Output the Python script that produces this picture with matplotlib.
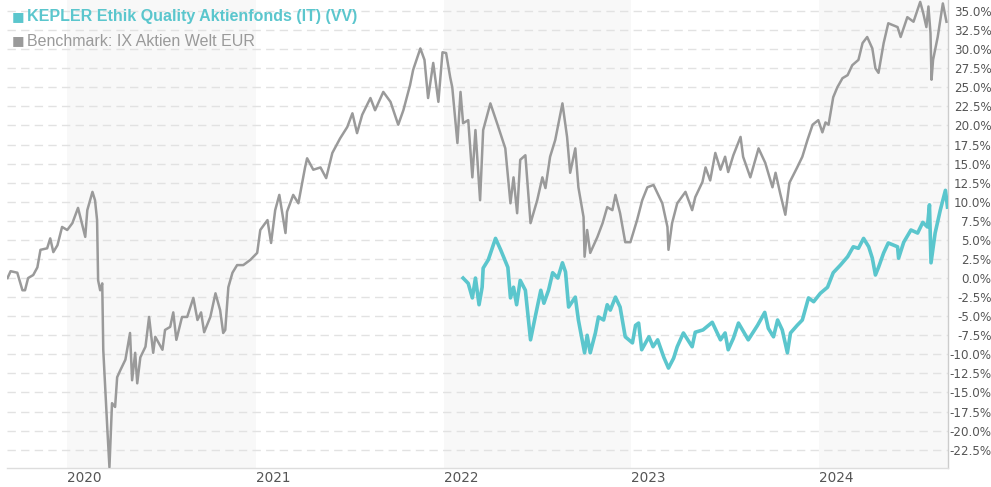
import matplotlib
matplotlib.use("Agg")
import matplotlib.pyplot as plt
import pandas as pd

# ---------------- data (percent performance) ----------------
bench_dates = [
    "2019-09-07","2019-09-13","2019-09-26","2019-10-06","2019-10-11","2019-10-17","2019-10-27",
    "2019-11-04","2019-11-10","2019-11-23","2019-11-29","2019-12-05","2019-12-13","2019-12-22",
    "2020-01-01","2020-01-11","2020-01-22","2020-02-05","2020-02-09","2020-02-19","2020-02-24",
    "2020-02-28","2020-03-01","2020-03-05","2020-03-09","2020-03-11","2020-03-19","2020-03-23",
    "2020-03-28","2020-04-03","2020-04-07","2020-04-13","2020-04-23","2020-05-02","2020-05-06",
    "2020-05-12","2020-05-16","2020-05-22","2020-06-01","2020-06-08","2020-06-16","2020-06-20",
    "2020-07-04","2020-07-09","2020-07-19","2020-07-25","2020-07-31","2020-08-11","2020-08-21",
    "2020-09-02","2020-09-10","2020-09-17","2020-09-23","2020-10-05","2020-10-15","2020-10-24",
    "2020-10-30","2020-11-03","2020-11-09","2020-11-17","2020-11-26","2020-12-08","2020-12-22",
    "2021-01-04","2021-01-10","2021-01-24","2021-01-31","2021-02-08","2021-02-16","2021-02-28",
    "2021-03-03","2021-03-15","2021-03-25","2021-04-07","2021-04-11","2021-04-23","2021-05-07",
    "2021-05-18","2021-05-30","2021-06-14","2021-06-28","2021-07-08","2021-07-17","2021-07-27",
    "2021-08-12","2021-08-21","2021-09-06","2021-09-20","2021-10-05","2021-10-15","2021-10-28",
    "2021-11-03","2021-11-17","2021-11-25","2021-12-02","2021-12-12","2021-12-22","2021-12-30",
    "2022-01-06","2022-01-14","2022-01-18","2022-01-28","2022-02-03","2022-02-08","2022-02-18",
    "2022-02-26","2022-03-04","2022-03-13","2022-03-19","2022-04-02","2022-04-15","2022-05-01",
    "2022-05-11","2022-05-17","2022-05-24","2022-05-30","2022-06-09","2022-06-19","2022-07-02",
    "2022-07-12","2022-07-18","2022-07-27","2022-08-06","2022-08-20","2022-08-29","2022-09-04",
    "2022-09-14","2022-09-20","2022-09-30","2022-10-02","2022-10-07","2022-10-13","2022-10-27",
    "2022-11-06","2022-11-15","2022-11-25","2022-12-01","2022-12-10","2022-12-20","2022-12-30",
    "2023-01-12","2023-01-22","2023-02-01","2023-02-13","2023-03-02","2023-03-12","2023-03-14",
    "2023-03-21","2023-03-31","2023-04-16","2023-04-29","2023-05-05","2023-05-19","2023-05-25",
    "2023-06-03","2023-06-13","2023-06-23","2023-07-02","2023-07-08","2023-07-18","2023-08-01",
    "2023-08-06","2023-08-20","2023-09-05","2023-09-18","2023-10-02","2023-10-08","2023-10-17",
    "2023-10-27","2023-11-04","2023-11-19","2023-11-29","2023-12-09","2023-12-19","2023-12-30",
    "2024-01-07","2024-01-13","2024-01-19","2024-01-28","2024-02-05","2024-02-15","2024-02-25",
    "2024-03-05","2024-03-17","2024-03-25","2024-04-03","2024-04-13","2024-04-19","2024-04-25",
    "2024-05-05","2024-05-14","2024-06-01","2024-06-07","2024-06-20","2024-07-02","2024-07-15",
    "2024-07-21","2024-07-27","2024-07-31","2024-08-04","2024-08-06","2024-08-09","2024-08-18",
    "2024-08-28","2024-09-04",
]
bench_values = [
    0.0, 0.9, 0.7, -1.6, -1.6, 0.0, 0.4,
    1.4, 3.7, 3.9, 5.2, 3.4, 4.3, 6.7,
    6.3, 7.2, 9.2, 5.4, 8.9, 11.3, 10.2,
    7.6, -0.3, -1.6, -0.7, -9.4, -19.9, -24.8,
    -16.4, -16.9, -13.0, -12.1, -10.7, -7.2, -13.4,
    -9.8, -13.8, -10.4, -9.0, -5.1, -9.8, -7.7,
    -9.4, -6.8, -6.4, -4.5, -8.1, -5.1, -5.1,
    -2.6, -5.5, -4.5, -7.1, -5.1, -2.0, -4.2,
    -7.2, -6.8, -1.2, 0.7, 1.7, 1.7, 2.4,
    3.3, 6.3, 7.6, 4.6, 8.9, 10.9, 5.9,
    8.7, 10.9, 9.8, 14.5, 15.7, 14.2, 14.5,
    13.1, 16.4, 18.3, 19.8, 21.6, 19.0, 21.4,
    23.6, 22.0, 24.4, 23.1, 20.1, 22.0, 25.3,
    27.3, 30.1, 28.6, 23.6, 28.2, 23.1, 29.6,
    29.5, 26.3, 25.0, 17.7, 24.4, 20.3, 20.7,
    13.2, 19.4, 10.2, 19.4, 22.9, 20.3, 17.0,
    9.8, 13.2, 8.5, 15.5, 16.1, 7.2, 10.2,
    13.2, 11.8, 15.9, 18.1, 22.9, 18.5, 13.8,
    17.0, 11.9, 8.0, 2.8, 6.3, 3.3, 5.4,
    7.2, 9.3, 8.9, 10.9, 8.5, 4.7, 4.7,
    7.6, 10.2, 11.9, 12.2, 9.8, 6.7, 3.7,
    7.2, 9.8, 11.3, 8.9, 10.6, 12.6, 14.5,
    12.8, 16.4, 14.2, 15.9, 13.9, 16.1, 18.5,
    15.9, 13.2, 17.0, 15.1, 11.9, 13.8, 11.1,
    8.3, 12.5, 14.5, 15.9, 18.1, 20.1, 20.7,
    19.1, 20.4, 20.1, 23.7, 25.0, 26.2, 26.6,
    27.9, 28.6, 30.8, 31.6, 30.1, 27.5, 26.9,
    30.8, 33.4, 32.9, 31.6, 34.2, 33.6, 36.2,
    34.7, 32.9, 35.6, 32.1, 26.0, 28.6, 31.6,
    36.0, 33.6,
]

fund_dates = [
    "2022-02-08","2022-02-18","2022-02-26","2022-03-04","2022-03-11","2022-03-17","2022-03-19",
    "2022-03-29","2022-04-12","2022-04-22","2022-05-06","2022-05-11","2022-05-17","2022-05-23",
    "2022-05-30","2022-06-09","2022-06-19","2022-06-29","2022-07-09","2022-07-15","2022-07-24",
    "2022-08-01","2022-08-11","2022-08-20","2022-08-26","2022-09-01","2022-09-14","2022-09-20",
    "2022-10-02","2022-10-07","2022-10-13","2022-10-23","2022-10-29","2022-11-08","2022-11-15",
    "2022-11-21","2022-12-01","2022-12-10","2022-12-20","2023-01-03","2023-01-09","2023-01-15",
    "2023-01-21","2023-02-04","2023-02-12","2023-02-21","2023-03-05","2023-03-14","2023-03-24",
    "2023-03-31","2023-04-12","2023-04-29","2023-05-05","2023-05-20","2023-06-07","2023-06-23",
    "2023-07-02","2023-07-08","2023-07-18","2023-07-28","2023-08-16","2023-09-03","2023-09-17",
    "2023-09-24","2023-10-04","2023-10-12","2023-10-21","2023-10-31","2023-11-06","2023-11-19",
    "2023-11-29","2023-12-11","2023-12-21","2024-01-03","2024-01-17","2024-01-28","2024-02-11",
    "2024-02-25","2024-03-07","2024-03-17","2024-03-27","2024-04-06","2024-04-13","2024-04-19",
    "2024-04-25","2024-05-05","2024-05-14","2024-06-01","2024-06-03","2024-06-13","2024-06-27",
    "2024-07-10","2024-07-20","2024-07-29","2024-08-02","2024-08-05","2024-08-13","2024-08-23",
    "2024-09-02","2024-09-06",
]
fund_values = [
    0.0, -0.7, -2.6, 0.0, -3.5, -1.2, 1.3,
    2.4, 5.2, 3.7, 1.4, -2.6, -1.2, -3.5,
    -0.3, -1.6, -8.1, -4.8, -1.6, -3.3, -1.6,
    0.7, 0.0, 2.0, 0.8, -3.8, -2.5, -5.5,
    -9.8, -7.5, -9.8, -7.2, -5.1, -5.5, -3.5,
    -4.2, -2.5, -3.8, -7.7, -8.5, -6.2, -5.9,
    -9.4, -7.7, -9.0, -8.1, -10.4, -11.8, -10.5,
    -9.0, -7.2, -9.0, -7.1, -6.8, -5.8, -8.1,
    -7.2, -9.4, -7.9, -5.9, -8.1, -6.2, -4.5,
    -6.6, -7.7, -5.5, -6.8, -9.8, -7.2, -6.2,
    -5.5, -2.6, -3.1, -2.0, -1.2, 0.7, 1.7,
    2.8, 4.1, 3.9, 5.2, 4.1, 2.6, 0.4,
    1.4, 3.3, 4.6, 4.1, 2.6, 4.7, 6.3,
    5.9, 7.3, 6.7, 9.6, 2.0, 5.9, 8.9,
    11.5, 9.3,
]

fund_name = "KEPLER Ethik Quality Aktienfonds (IT) (VV)"
bench_name = "Benchmark: IX Aktien Welt EUR"
year_labels = ["2020", "2021", "2022", "2023", "2024"]
shaded_years = ["2020", "2022", "2024"]
y_ticks = [-22.5 + 2.5 * i for i in range(24)]

# ---------------- style ----------------
FUND_C = "#5bc6cd"
BENCH_C = "#9a9a9a"
TXT_C = "#555555"

fig = plt.figure(figsize=(9.91, 4.87), dpi=100)
W, H = 991, 487
ax = fig.add_axes([7 / W, (H - 468) / H, (948 - 7) / W, 468 / H])

x_min = pd.Timestamp("2019-09-06")
x_max = pd.Timestamp("2024-09-07")
ax.set_xlim(x_min, x_max)
ax.set_ylim(-24.9, 36.45)

# alternating year bands
for y in shaded_years:
    start = pd.Timestamp(f"{y}-01-01")
    end = min(pd.Timestamp(f"{int(y) + 1}-01-01"), x_max)
    ax.axvspan(start, end, color="#f8f8f8", zorder=0, lw=0)

# grid
for t in y_ticks:
    ax.axhline(t, color="#e2e2e2", lw=1.0, ls=(0, (6, 3.8)), zorder=1)

bd = pd.to_datetime(bench_dates)
fd = pd.to_datetime(fund_dates)
ax.plot(bd, bench_values, color=BENCH_C, lw=1.8, zorder=3, solid_joinstyle="round")
ax.plot(fd, fund_values, color=FUND_C, lw=2.6, zorder=4, solid_joinstyle="round")

# axes styling
for s in ["left", "top"]:
    ax.spines[s].set_visible(False)
ax.spines["right"].set_color("#cccccc")
ax.spines["bottom"].set_color("#dddddd")
ax.spines["right"].set_linewidth(1)
ax.spines["bottom"].set_linewidth(1)

ax.yaxis.tick_right()
ax.set_yticks(y_ticks)
ax.set_yticklabels([f"{v:.1f}%" for v in y_ticks], fontsize=8.6, color=TXT_C,
                   family="DejaVu Sans")
ax.tick_params(axis="y", length=0, pad=31.3)
for lab in ax.get_yticklabels():
    lab.set_horizontalalignment("right")

ax.set_xticks([pd.Timestamp(f"{y}-01-01") for y in year_labels])
ax.set_xticklabels(year_labels, fontsize=9.8, color=TXT_C, family="DejaVu Sans")
ax.tick_params(axis="x", length=0, pad=2.5)
for lab in ax.get_xticklabels():
    lab.set_horizontalalignment("left")

# legend
fig.text(11.5 / W, 1 - 16.5 / H, "\u25A0", color=FUND_C, fontsize=9.5,
         va="center", ha="left", family="DejaVu Sans")
fig.text(27 / W, 1 - 16.5 / H, fund_name, color=FUND_C, fontsize=11.5,
         fontweight="bold", va="center", ha="left", family="Liberation Sans")
fig.text(11.5 / W, 1 - 41 / H, "\u25A0", color=BENCH_C, fontsize=9.5,
         va="center", ha="left", family="DejaVu Sans")
fig.text(27 / W, 1 - 41 / H, bench_name, color=BENCH_C, fontsize=11.5,
         va="center", ha="left", family="Liberation Sans")

fig.savefig("out.png", dpi=100)
